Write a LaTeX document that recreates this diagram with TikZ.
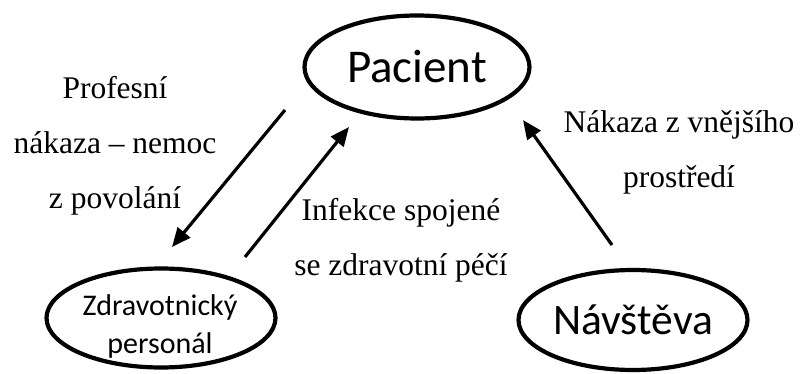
\documentclass[tikz,border=0pt]{standalone}
\usepackage{fontspec}
\setmainfont{Liberation Serif}
\newfontfamily\calibri{Carlito}
\usetikzlibrary{shapes.geometric,arrows.meta}
\begin{document}
\begin{tikzpicture}[x=1pt,y=-1pt,
  oval/.style={draw,ellipse,line width=4.2pt,inner sep=0pt},
  arr/.style={line width=3.2pt,-{Triangle[length=19pt,width=16pt]}},
  txt/.style={align=center,font=\fontsize{31.5}{55}\selectfont}]
\useasboundingbox (0,0) rectangle (800,374);
\node[oval,minimum width=225pt,minimum height=103pt,font=\calibri\fontsize{47}{50}\selectfont] (pac) at (417,67) {Pacient};
\node[oval,minimum width=229pt,minimum height=99pt] (zdr) at (161,318) {};
\node[align=center,font=\calibri\fontsize{30}{38}\selectfont] (zdrtxt) at (160,326) {Zdravotnický\\personál};
\node[oval,minimum width=229pt,minimum height=100pt,font=\calibri\fontsize{43.5}{48}\selectfont] (nav) at (633,320) {Návštěva};
\node[txt] (prof) at (115,146) {Profesní\\nákaza – nemoc\\z povolání};
\node[txt] (inf) at (401,240) {Infekce spojené\\se zdravotní péčí};
\node[txt] (vnej) at (679,152) {Nákaza z vnějšího\\prostředí};
\coordinate (pz1) at (285,110); \coordinate (pz2) at (172,247);
\coordinate (zp1) at (245,257); \coordinate (zp2) at (349,127);
\coordinate (np1) at (612,245); \coordinate (np2) at (523,120);
\foreach \a/\b in {pz1/pz2,zp1/zp2,np1/np2} \draw[arr] (\a) -- (\b);
\end{tikzpicture}
\end{document}
